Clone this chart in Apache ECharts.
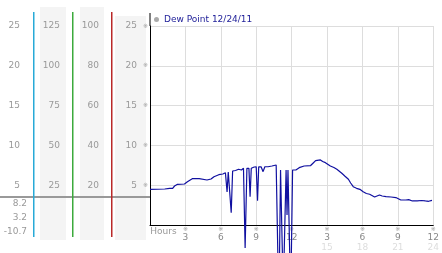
<!DOCTYPE html>
<html><head><meta charset="utf-8">
<script src="https://cdn.jsdelivr.net/npm/echarts@6/dist/echarts.min.js"></script>
<style>html,body{margin:0;padding:0;background:#fff}#c{width:442px;height:253px}</style>
</head><body><div id="c"></div>
<script>
// ---- data ----
const seriesName = 'Dew Point 12/24/11';
const hours = [0.0,1.25,1.67,1.92,2.08,2.33,2.92,3.17,3.58,4.17,4.83,5.17,5.42,5.83,6.17,6.39,6.53,6.63,6.88,7.0,
  7.25,7.5,7.75,7.92,8.06,8.21,8.38,8.48,8.58,8.83,9.0,9.11,9.21,9.42,9.58,9.73,10.0,10.33,10.69,10.83,
  10.92,11.06,11.17,11.29,11.53,11.61,11.69,11.81,11.92,12.08,12.22,12.36,12.64,13.06,13.61,13.83,14.03,14.17,14.44,14.63,
  14.86,15.28,15.58,15.83,16.25,16.5,16.81,17.0,17.22,17.5,17.78,18.06,18.33,18.61,19.03,19.44,19.67,20.0,20.42,20.83,
  21.08,21.25,21.67,21.92,22.23,22.64,23.0,23.33,23.61,23.89];
const dewPoint = [4.48,4.52,4.61,4.61,4.9,5.11,5.15,5.44,5.82,5.82,5.65,5.78,6.07,6.32,6.41,6.57,4.15,6.66,1.55,6.78,
  6.85,7.0,6.91,7.12,-2.9,7.12,7.12,3.56,7.12,7.29,7.32,3.05,7.32,7.29,6.7,7.32,7.32,7.41,7.54,7.29,
  -10.7,6.91,6.91,-8.5,6.91,1.26,6.91,6.91,-9.5,6.91,6.7,6.91,7.2,7.41,7.47,7.79,8.08,8.17,8.17,7.98,
  7.83,7.41,7.22,7.0,6.5,6.16,5.74,5.28,4.81,4.61,4.48,4.18,3.96,3.86,3.52,3.77,3.64,3.56,3.52,3.45,
  3.27,3.14,3.14,3.18,3.02,3.02,3.08,3.02,2.98,3.1];
const xTicks = [3, 6, 9, 12, 15, 18, 21, 24];
const yTicks = [5, 10, 15, 20, 25];
const scale2Ticks = [25, 50, 75, 100, 125];
const scale3Ticks = [20, 40, 60, 80, 100];
const statsLabels = ['8.2', '3.2', '-10.7'];

// ---- layout ----
const FONT = 'DejaVu Sans';
const plot = {left: 150, top: 26, width: 288, height: 199};
const yMax = 25, xMax = 24;
const panelTop = 12, panelBottom = 237;
const ppu = plot.height / yMax;
const panelMax = yMax + (plot.top - panelTop) / ppu;
const panelMin = -(panelBottom - (plot.top + plot.height)) / ppu;

const data = hours.map((h, i) => [h, dewPoint[i]]);

// scale columns of the left panel: axis x-position, colour, factor, ticks, label margin
const columns = [
  {x: 33, color: 'rgb(40,170,215)', factor: 1, ticks: yTicks, margin: 13},
  {x: 72, color: 'rgb(60,170,60)', factor: 5, ticks: scale2Ticks, margin: 12},
  {x: 111, color: 'rgb(185,40,40)', factor: 4, ticks: scale3Ticks, margin: 12}
];

const grids = [{left: plot.left, top: plot.top, width: plot.width, height: plot.height}];
const xAxes = [{
  type: 'value', gridIndex: 0, min: 0, max: xMax, interval: 3,
  name: 'Hours', nameLocation: 'start', nameGap: -4,
  nameTextStyle: {align: 'left', verticalAlign: 'top', padding: [2, 0, 0, 0], color: '#999', fontSize: 9, fontFamily: FONT},
  axisLine: {show: true, onZero: false, lineStyle: {color: '#000', width: 1}},
  axisTick: {show: false},
  splitLine: {show: true, lineStyle: {color: '#ddd', width: 1}},
  axisLabel: {
    margin: 1, showMinLabel: false,
    formatter: v => {
      if (xTicks.indexOf(v) < 0) return '';
      const h12 = v > 12 ? v - 12 : v;
      return '{m|※}\n{a|' + h12 + '}' + (v > 12 ? '\n{b|' + v + '}' : '');
    },
    rich: {
      m: {fontSize: 6, lineHeight: 7, color: '#999', fontFamily: FONT},
      a: {fontSize: 9, lineHeight: 9, color: '#888', fontFamily: FONT},
      b: {fontSize: 9, lineHeight: 11, color: '#ddd', fontFamily: FONT}
    }
  }
}];
const yAxes = [{
  type: 'value', gridIndex: 0, min: 0, max: yMax, interval: 5,
  axisLine: {show: true, onZero: false, lineStyle: {color: '#000', width: 1}},
  axisTick: {show: false},
  splitLine: {show: true, lineStyle: {color: '#ddd', width: 1}},
  axisLabel: {
    margin: 2,
    formatter: v => yTicks.indexOf(v) < 0 ? '' : '{v|' + v + '}{m|※}',
    rich: {
      v: {fontSize: 9, color: '#999', fontFamily: FONT, padding: [0, 6, 0, 0]},
      m: {fontSize: 6, color: '#999', fontFamily: FONT}
    }
  }
}];
const graphics = [
  {type: 'rect', z: -10, shape: {x: 40, y: 7, width: 26, height: 233}, style: {fill: '#f4f4f4'}},
  {type: 'rect', z: -10, shape: {x: 80, y: 7, width: 24, height: 233}, style: {fill: '#f4f4f4'}},
  {type: 'rect', z: -10, shape: {x: 115, y: 16, width: 31, height: 224}, style: {fill: '#f4f4f4'}},
  {type: 'line', z: 5, shape: {x1: 0, y1: 197, x2: 150, y2: 197}, style: {stroke: '#999', lineWidth: 2}},
  {type: 'line', z: 5, shape: {x1: 150, y1: 13, x2: 150, y2: 26}, style: {stroke: '#000', lineWidth: 1}}
];
columns.forEach((c, i) => {
  const gi = i + 1;
  grids.push({left: c.x, top: panelTop, width: 2, height: panelBottom - panelTop});
  xAxes.push({type: 'value', gridIndex: gi, show: false, min: 0, max: 1});
  yAxes.push({
    type: 'value', gridIndex: gi, position: 'left',
    min: panelMin * c.factor, max: panelMax * c.factor,
    axisLine: {show: false},
    axisTick: {show: false}, splitLine: {show: false},
    axisLabel: {customValues: c.ticks, margin: c.margin, color: '#999', fontSize: 9, fontFamily: FONT}
  });
  graphics.push({type: 'rect', z: 6, shape: {x: c.x, y: panelTop, width: 1.5, height: panelBottom - panelTop},
    style: {fill: c.color}});
});
statsLabels.forEach((s, i) => {
  graphics.push({type: 'text', z: 5, style: {x: 27, y: 204 + i * 14, text: s, align: 'right',
    verticalAlign: 'middle', fill: '#999', fontSize: 9, fontFamily: FONT}});
});

const chart = echarts.init(document.getElementById('c'), null, {renderer: 'canvas'});
chart.setOption({
  animation: false,
  backgroundColor: '#fff',
  legend: {
    left: 154, top: 15, icon: 'circle', itemWidth: 5, itemHeight: 5, padding: 0,
    textStyle: {color: '#22229a', fontSize: 9, fontFamily: FONT},
    data: [{name: seriesName, itemStyle: {color: '#aaa'}}]
  },
  grid: grids,
  xAxis: xAxes,
  yAxis: yAxes,
  graphic: graphics,
  series: [{
    name: seriesName, type: 'line', xAxisIndex: 0, yAxisIndex: 0,
    data: data, showSymbol: false, clip: false,
    lineStyle: {color: '#1010a0', width: 1.2}, itemStyle: {color: '#1010a0'}
  }]
});
</script></body></html>
